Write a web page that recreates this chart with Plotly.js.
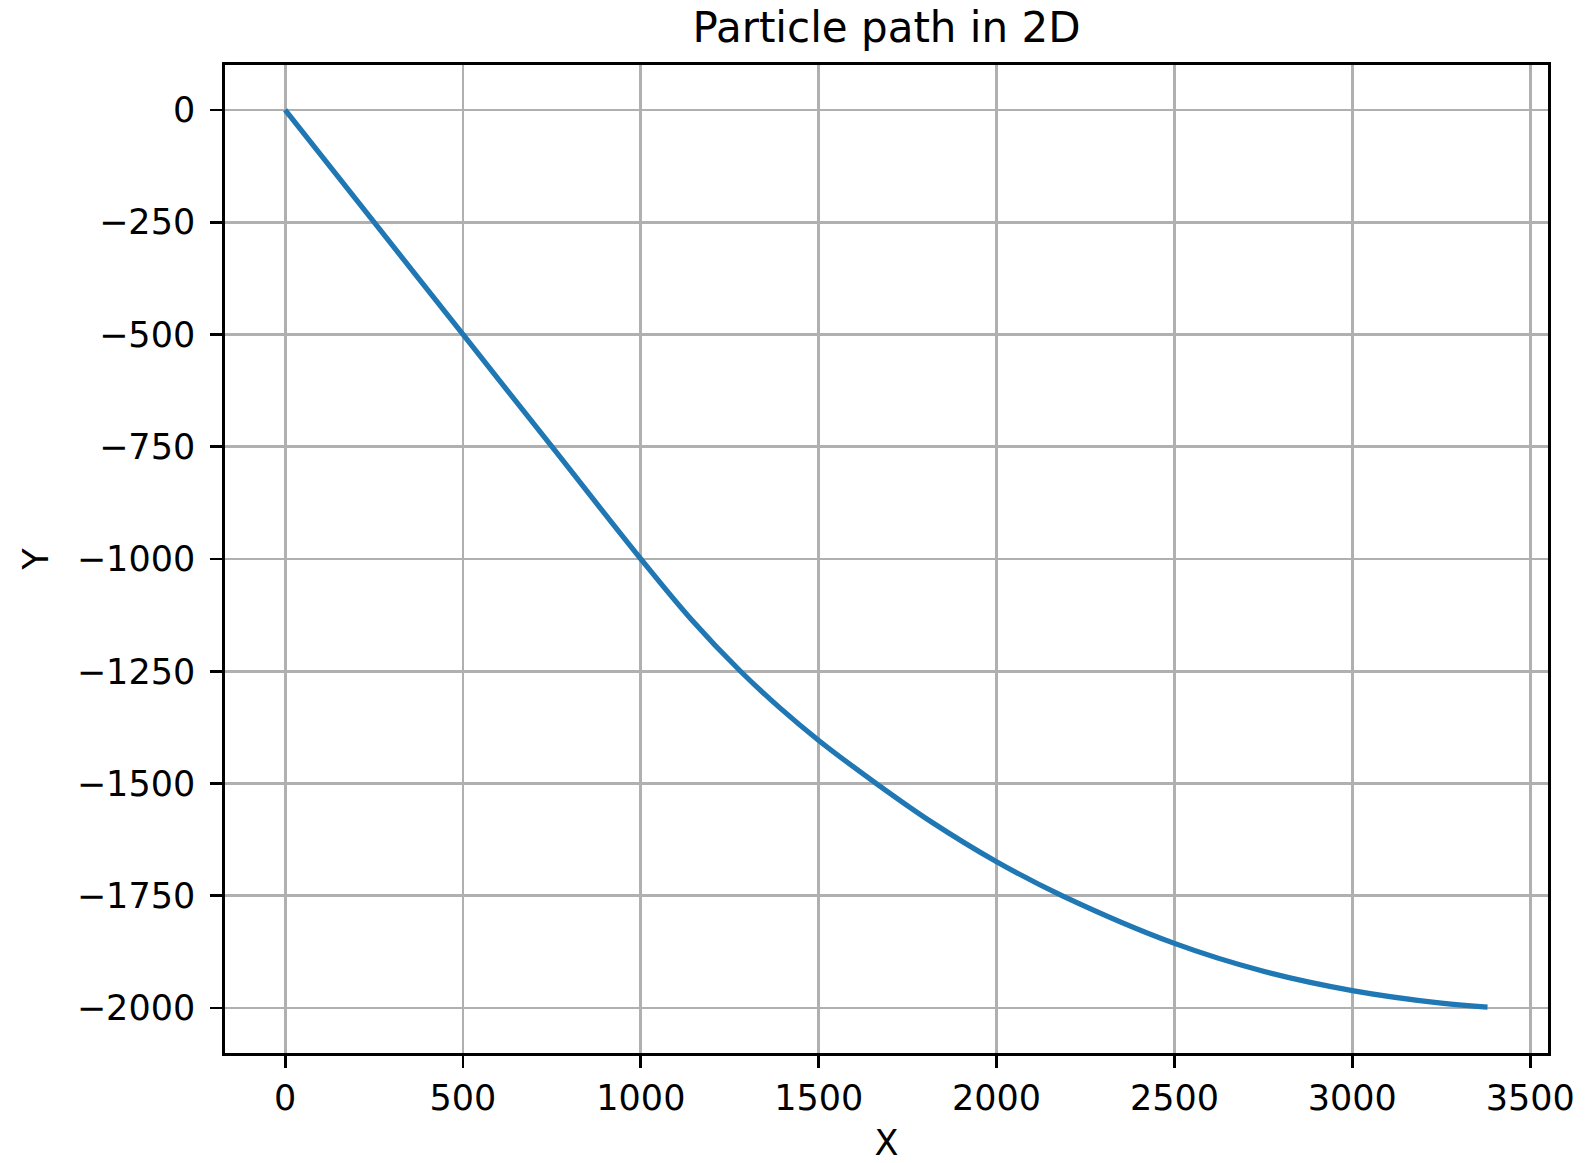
<!DOCTYPE html>
<html>
<head>
<meta charset="utf-8">
<script src="https://cdn.plot.ly/plotly-3.0.1.min.js"></script>
<style>
  html, body { margin: 0; padding: 0; background: #ffffff; }
  #chart { width: 1585px; height: 1163px; }
</style>
</head>
<body>
<div id="chart"></div>
<script>
// Particle path
const pathX = [0, 250, 500, 750, 1000, 1140, 1280, 1390, 1500, 1662, 1816, 2000, 2185, 2500, 2750, 3000, 3250, 3380];
const pathY = [0, -250, -500, -750, -1000, -1133, -1250, -1331, -1404, -1500, -1585, -1674, -1750, -1856, -1918, -1961, -1989, -1998];

const xTickVals = [0, 500, 1000, 1500, 2000, 2500, 3000, 3500];
const xTickText = ["0", "500", "1000", "1500", "2000", "2500", "3000", "3500"];
const yTickVals = [0, -250, -500, -750, -1000, -1250, -1500, -1750, -2000];
const yTickText = ["0", "\u2212250", "\u2212500", "\u2212750", "\u22121000", "\u22121250", "\u22121500", "\u22121750", "\u22122000"];

const chartTitle = "Particle path in 2D";
const xLabel = "X";
const yLabel = "Y";

const FONT = "DejaVu Sans, Verdana, sans-serif";

const trace = {
  x: pathX,
  y: pathY,
  type: "scatter",
  mode: "lines",
  line: { color: "#1f77b4", width: 5.2, shape: "spline", smoothing: 1 },
  hoverinfo: "skip"
};

const axisCommon = {
  showgrid: true,
  gridcolor: "#b0b0b0",
  gridwidth: 2.8,
  zeroline: false,
  showline: true,
  mirror: true,
  linecolor: "#000000",
  linewidth: 2.8,
  ticks: "outside",
  ticklen: 12,
  tickwidth: 2.8,
  tickcolor: "#000000",
  tickfont: { family: FONT, size: 35, color: "#000000" },
  tickmode: "array",
  automargin: false
};

const layout = {
  width: 1585,
  height: 1163,
  paper_bgcolor: "#ffffff",
  plot_bgcolor: "#ffffff",
  margin: { l: 225, r: 36.5, t: 64.5, b: 110, pad: 0 },
  showlegend: false,
  font: { family: FONT, color: "#000000" },
  title: {
    text: chartTitle,
    font: { family: FONT, size: 42, color: "#000000" },
    x: 0.5,
    xref: "paper",
    xanchor: "center",
    y: 1 - 27 / 1163,
    yref: "container",
    yanchor: "middle"
  },
  xaxis: Object.assign({}, axisCommon, {
    range: [-169, 3550],
    tickvals: xTickVals,
    ticktext: xTickText,
    title: { text: xLabel, font: { family: FONT, size: 35, color: "#000000" }, standoff: 24 }
  }),
  yaxis: Object.assign({}, axisCommon, {
    range: [-2100, 100],
    tickvals: yTickVals,
    ticktext: yTickText,
    ticklabelstandoff: 8,
    title: { text: yLabel, font: { family: FONT, size: 35, color: "#000000" }, standoff: 18 }
  })
};

Plotly.newPlot("chart", [trace], layout, { displayModeBar: false, staticPlot: true });
</script>
</body>
</html>
